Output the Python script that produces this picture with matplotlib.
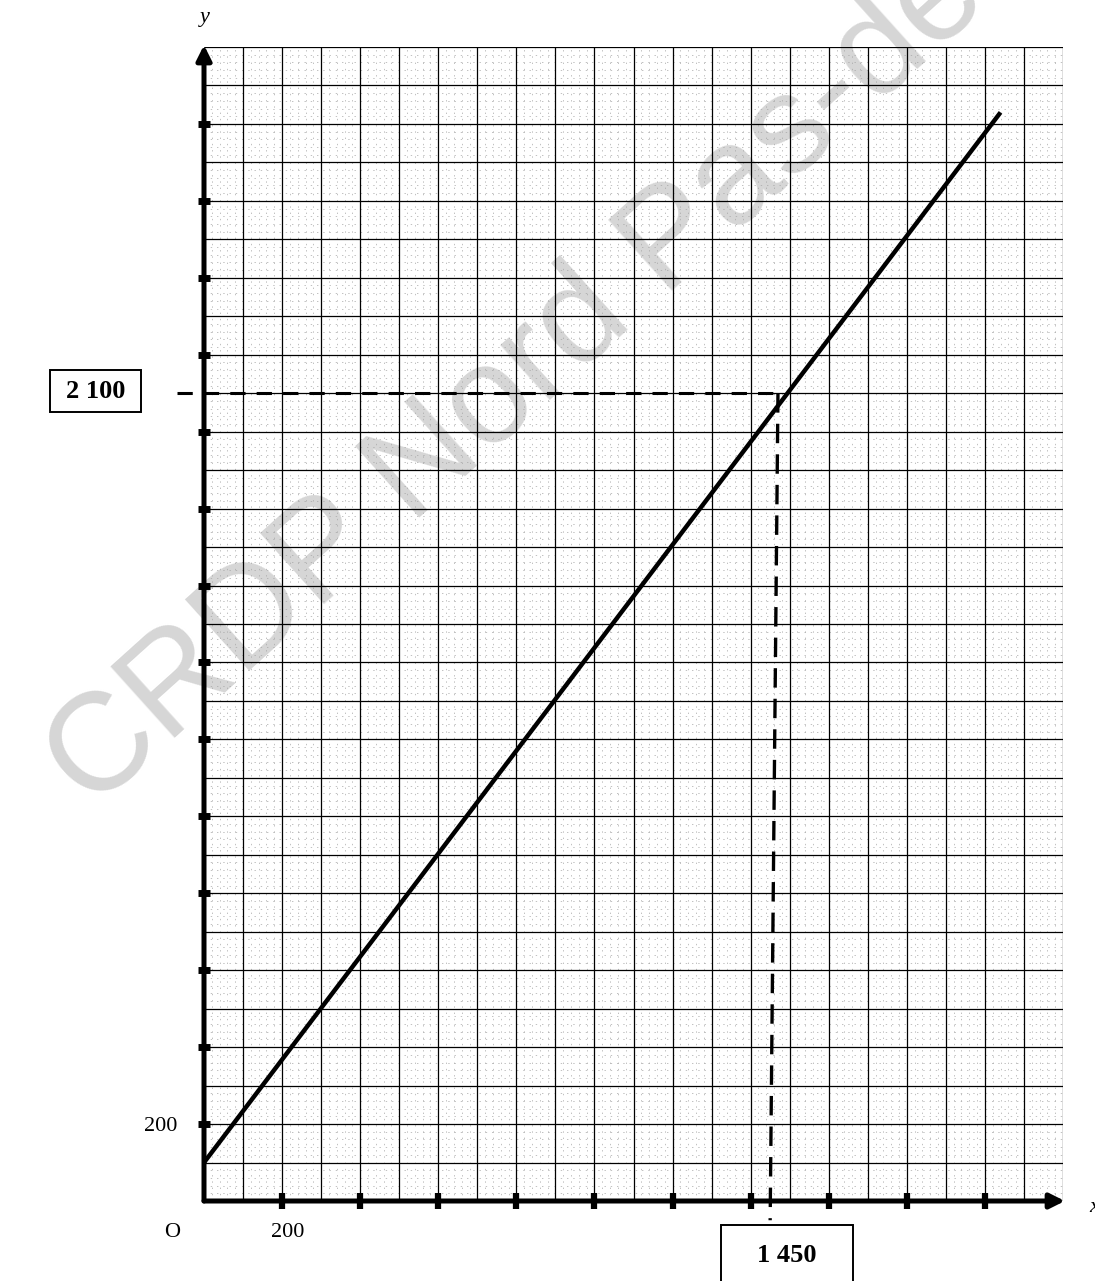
import numpy as np
import matplotlib
matplotlib.use("Agg")
import matplotlib.pyplot as plt
from matplotlib.patches import Rectangle

# ---- data ----
line_x = [0, 2040]          # straight line endpoints (x)
line_y = [100, 2830]        # straight line endpoints (y)
read_x = 1450               # value read on x axis
read_y = 2100               # value read on y axis
x_ticks = [200, 400, 600, 800, 1000, 1200, 1400, 1600, 1800, 2000]
y_ticks = [200, 400, 600, 800, 1000, 1200, 1400, 1600, 1800, 2000, 2200, 2400, 2600, 2800]
x_max, y_max = 2200, 3000
label_x_box = "1 450"
label_y_box = "2 100"

W, H = 1095, 1281
plt.rcParams['lines.scale_dashes'] = False
fig = plt.figure(figsize=(W / 100, H / 100), dpi=100)
fig.patch.set_facecolor('white')

ax = fig.add_axes([204 / W, 80 / H, 859 / W, 1154 / H])
ax.set_xlim(0, x_max)
ax.set_ylim(0, y_max)
ax.axis('off')

# watermark (behind the grid)
ax.text(92 / W, 1 - 812 / H, "CRDP Nord Pas-de-Calais", transform=fig.transFigure,
        rotation=42, rotation_mode='anchor', ha='left', va='baseline',
        fontsize=100, family='Liberation Sans', color='#d6d6d6', zorder=0.5,
        clip_on=False)

# graph paper
minor_x = np.arange(0, x_max + 1, 20)
minor_y = np.arange(0, y_max + 1, 20)
ax.vlines(minor_x, 0, y_max, colors='#a8a8a8', lw=0.5, linestyles=(0, (1, 3.5)), zorder=1)
ax.hlines(minor_y, 0, x_max, colors='#a8a8a8', lw=0.5, linestyles=(0, (1, 3.5)), zorder=1)
major_x = np.arange(0, x_max + 1, 100)
major_y = np.arange(0, y_max + 1, 100)
ax.vlines(major_x, 0, y_max, colors='black', lw=0.9, zorder=1.2)
ax.hlines(major_y, 0, x_max, colors='black', lw=0.9, zorder=1.2)

# axes with arrows
ax.annotate('', xy=(0, y_max + 5), xytext=(0, 0),
            arrowprops=dict(arrowstyle='-|>', lw=3.6, color='black', mutation_scale=22,
                            shrinkA=0, shrinkB=0), annotation_clip=False, zorder=5)
ax.annotate('', xy=(x_max + 5, 0), xytext=(0, 0),
            arrowprops=dict(arrowstyle='-|>', lw=3.6, color='black', mutation_scale=22,
                            shrinkA=0, shrinkB=0), annotation_clip=False, zorder=5)
ax.plot(x_ticks, [0] * len(x_ticks), ls='none', marker='|', ms=12, mew=4.5,
        color='black', clip_on=False, zorder=6)
ax.plot([0] * len(y_ticks), y_ticks, ls='none', marker='_', ms=9, mew=5,
        color='black', clip_on=False, zorder=6)

# dashed reading lines
ax.plot([-68, read_x + 30], [read_y, read_y], color='black', lw=2.2,
        ls=(0, (11, 8)), clip_on=False, zorder=4)
ax.plot([read_x + 20, read_x], [read_y, -50], color='black', lw=2.4,
        ls=(0, (14, 8)), clip_on=False, zorder=4)

# main line
ax.plot(line_x, line_y, color='black', lw=3.2, solid_capstyle='butt',
        clip_on=False, zorder=4.5)

serif = 'Liberation Serif'
ax.text(-82, -82, "O", ha='center', va='center', fontsize=16, family=serif, clip_on=False)
ax.text(215, -83, "200", ha='center', va='center', fontsize=16, family=serif, clip_on=False)
ax.text(-69, 194, "200", ha='right', va='center', fontsize=16, family=serif, clip_on=False)
ax.text(2, 3076, "y", ha='center', va='center', fontsize=16, family=serif,
        style='italic', clip_on=False)
ax.text(2266, -16, "x", ha='left', va='center', fontsize=16, family=serif,
        style='italic', clip_on=False)

# boxed labels (figure pixel coordinates)
def box(x0, y0, x1, y1, text, cx, cy):
    fig.add_artist(Rectangle((x0 / W, 1 - y1 / H), (x1 - x0) / W, (y1 - y0) / H,
                             transform=fig.transFigure, fill=False, lw=1.4, ec='black'))
    fig.text(cx / W, 1 - cy / H, text, ha='center', va='center', fontsize=19,
             fontweight='bold', family=serif)

box(50, 370, 141, 412, label_y_box, 96, 391)
box(721, 1225, 853, 1300, label_x_box, 787, 1255)

fig.savefig("out.png", dpi=100, facecolor='white')
